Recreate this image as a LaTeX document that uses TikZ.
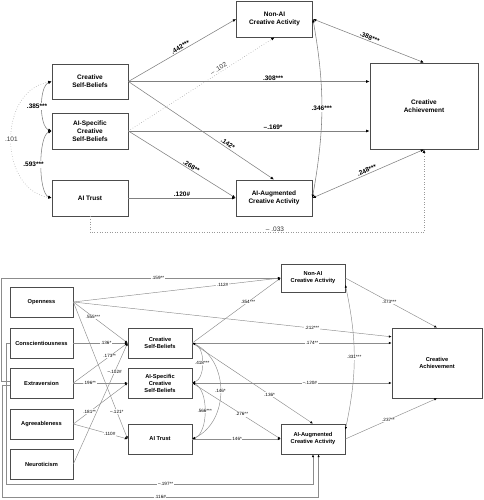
\documentclass[tikz,border=0pt]{standalone}
\usepackage{fontspec}
\setmainfont{Liberation Sans}
\usetikzlibrary{arrows.meta}
\begin{document}
\begin{tikzpicture}
[x=1pt,y=-1pt,
 box/.style={rectangle,draw=black!70,line width=0.8pt,fill=white,align=center,inner sep=0pt,
   font=\fontsize{6.5}{8.3}\selectfont\bfseries},
 sbox/.style={box,line width=0.7pt,font=\fontsize{5.7}{7}\selectfont\bfseries},
 conn/.style={draw=black!50,line width=0.55pt,-{Latex[length=3.4pt,width=2.8pt,color=black]}},
 cov/.style={conn,{Latex[length=3.4pt,width=2.8pt,color=black]}-{Latex[length=3.4pt,width=2.8pt,color=black]}},
 bconn/.style={draw=black!45,line width=0.45pt,-{Latex[length=2.8pt,width=2.3pt,color=black]}},
 bcov/.style={bconn,{Latex[length=2.8pt,width=2.3pt,color=black]}-{Latex[length=2.8pt,width=2.3pt,color=black]}},
 coef/.style={font=\fontsize{6.5}{7}\selectfont\bfseries,inner sep=1pt},
 nsig/.style={font=\fontsize{6.5}{7}\selectfont,text=black!80},
 bcoef/.style={font=\fontsize{4.6}{5}\selectfont,fill=white,inner sep=0.6pt}]
\useasboundingbox (0,0) rectangle (483,500);
\node[box,minimum width=76pt,minimum height=35pt] (csb) at (90,81.5) {Creative\\Self-Beliefs};
\node[box,minimum width=76pt,minimum height=36pt] (ais) at (90,131) {AI-Specific\\Creative\\Self-Beliefs};
\node[box,minimum width=76pt,minimum height=36pt] (trust) at (90,198) {AI Trust};
\node[box,minimum width=76pt,minimum height=36pt] (nonai) at (274.5,19) {Non-AI\\Creative Activity};
\node[box,minimum width=76pt,minimum height=36pt] (aug) at (274,198) {AI-Augmented\\Creative Activity};
\node[box,minimum width=108pt,minimum height=86pt] (ach) at (424,106) {Creative\\Achievement};
\draw[conn] (csb.east) -- node[coef,above,sloped] {.442***} (nonai.west);
\draw[conn,dotted,draw=black!40] (ais.east) -- node[coef,nsig,above,sloped,pos=0.63] {– .102} (nonai.south);
\draw[conn] (csb.east) -- node[coef,above,pos=0.6] {.308***} (csb.east -| ach.west);
\draw[conn] (ais.east) -- node[coef,above,pos=0.6] {–.169*} (ais.east -| ach.west);
\draw[conn] (csb.east) -- node[coef,above,sloped,pos=0.67] {.142*} (aug.north);
\draw[conn] (ais.east) -- node[coef,above,sloped,pos=0.57] {.268**} (aug.west);
\draw[conn] (trust.east) -- node[coef,above] {.120\#} (aug.west);
\draw[cov] (aug.east) -- node[coef,above,sloped] {.248***} (ach.south);
\draw[cov] (nonai.east) -- node[coef,above,sloped] {.388***} (ach.north);
\draw[cov] (nonai.east) to[out=-80,in=80] node[coef,fill=white] {.346***} (aug.east);
\draw[cov] (csb.west) to[out=200,in=160,looseness=0.7] node[coef,fill=white,xshift=-5pt] {.385***} (ais.west);
\draw[cov] (ais.west) to[out=200,in=160,looseness=0.55] node[coef,fill=white,xshift=-8pt] {.593***} (trust.west);
\draw[cov,dotted,draw=black!40] (csb.west) to[out=190,in=170,looseness=1.2] node[coef,nsig,fill=white] {.101} (trust.west);
\draw[conn,dotted,draw=black!40] (trust.south) -- ++(0,16) -| node[coef,nsig,above,pos=0.277] {– .033} (ach.south);
\node[sbox,minimum width=63pt,minimum height=30pt] (open) at (41.5,302) {Openness};
\node[sbox,minimum width=63pt,minimum height=30pt] (consc) at (41.5,343) {Conscientiousness};
\node[sbox,minimum width=63pt,minimum height=30pt] (extra) at (41.5,383) {Extraversion};
\node[sbox,minimum width=63pt,minimum height=30pt] (agree) at (41.5,424) {Agreeableness};
\node[sbox,minimum width=63pt,minimum height=30pt] (neuro) at (41.5,464) {Neuroticism};
\node[sbox,minimum width=64pt,minimum height=30pt] (bcsb) at (160,343) {Creative\\Self-Beliefs};
\node[sbox,minimum width=64pt,minimum height=30pt] (bais) at (160,383) {AI-Specific\\Creative\\Self-Beliefs};
\node[sbox,minimum width=64pt,minimum height=30pt] (btrust) at (160,439) {AI Trust};
\node[sbox,minimum width=64pt,minimum height=28pt] (bnonai) at (313,278) {Non-AI\\Creative Activity};
\node[sbox,minimum width=64pt,minimum height=30pt] (baug) at (313,439) {AI-Augmented\\Creative Activity};
\node[sbox,minimum width=90pt,minimum height=70pt] (bach) at (437,363) {Creative\\Achievement};
\coordinate (c1) at (6,484);
\coordinate (c2) at (2,497);
\draw[bconn] (open.east) -- node[bcoef,pos=0.72] {.112\#} (bnonai.west);
\draw[bconn] (extra.176) -- ++(-8,0) |- node[bcoef,pos=0.78] {.159**} (bnonai.west);
\draw[bconn] (open.east) -- node[bcoef,pos=0.36] {.555***} (bcsb.west);
\draw[bconn] (open.east) -- node[bcoef,pos=0.75] {.212***} (bach.150);
\draw[bconn] (open.east) -- node[bcoef,pos=0.8] {–.121*} (btrust.west);
\draw[bconn] (consc.east) -- node[bcoef,pos=0.6] {.136*} (bcsb.west);
\draw[bconn] (consc.west) -| (c1) -| node[bcoef,pos=0.26] {–.197**} (baug.south);
\draw[bconn] (extra.184) -| (c2) -| node[bcoef,pos=0.25] {.116\#} (baug.290);
\draw[bconn] (extra.east) -- node[bcoef,pos=0.67] {.173**} (bcsb.west);
\draw[bconn] (extra.east) -- node[bcoef,pos=0.3] {.196**} (bais.west);
\draw[bconn] (agree.east) -- node[bcoef,pos=0.3] {.181**} (bais.west);
\draw[bconn] (agree.east) -- node[bcoef,pos=0.67] {.110\#} (btrust.west);
\draw[bconn] (neuro.east) -- node[bcoef,pos=0.76] {–.102\#} (bcsb.west);
\draw[bconn] (bcsb.east) -- node[bcoef,pos=0.63] {.354***} (bnonai.west);
\draw[bconn] (bcsb.east) -- node[bcoef,pos=0.6] {.174**} (bcsb.east -| bach.west);
\draw[bconn] (bcsb.east) -- node[bcoef,pos=0.64] {.136*} (baug.north);
\draw[bconn] (bais.east) -- node[bcoef,pos=0.59] {–.120\#} (bais.east -| bach.west);
\draw[bconn] (bais.east) -- node[bcoef,pos=0.56] {.276**} (baug.west);
\draw[bconn] (btrust.east) -- node[bcoef] {.146*} (baug.west);
\draw[bcov] (bcsb.east) to[out=-20,in=20,looseness=0.9] node[bcoef] {.418***} (bais.east);
\draw[bcov] (bais.east) to[out=-20,in=20,looseness=0.8] node[bcoef] {.566***} (btrust.east);
\draw[bcov] (bcsb.east) to[out=-25,in=25,looseness=1.1] node[bcoef] {.146*} (btrust.east);
\draw[bcov] (bnonai.-12) to[out=-78,in=78] node[bcoef] {.331***} (baug.16);
\draw[bconn] (bnonai.east) -- node[bcoef,pos=0.48] {.373***} (bach.north);
\draw[bconn] (baug.east) -- node[bcoef,pos=0.47] {.237**} (bach.south);
\end{tikzpicture}
\end{document}
